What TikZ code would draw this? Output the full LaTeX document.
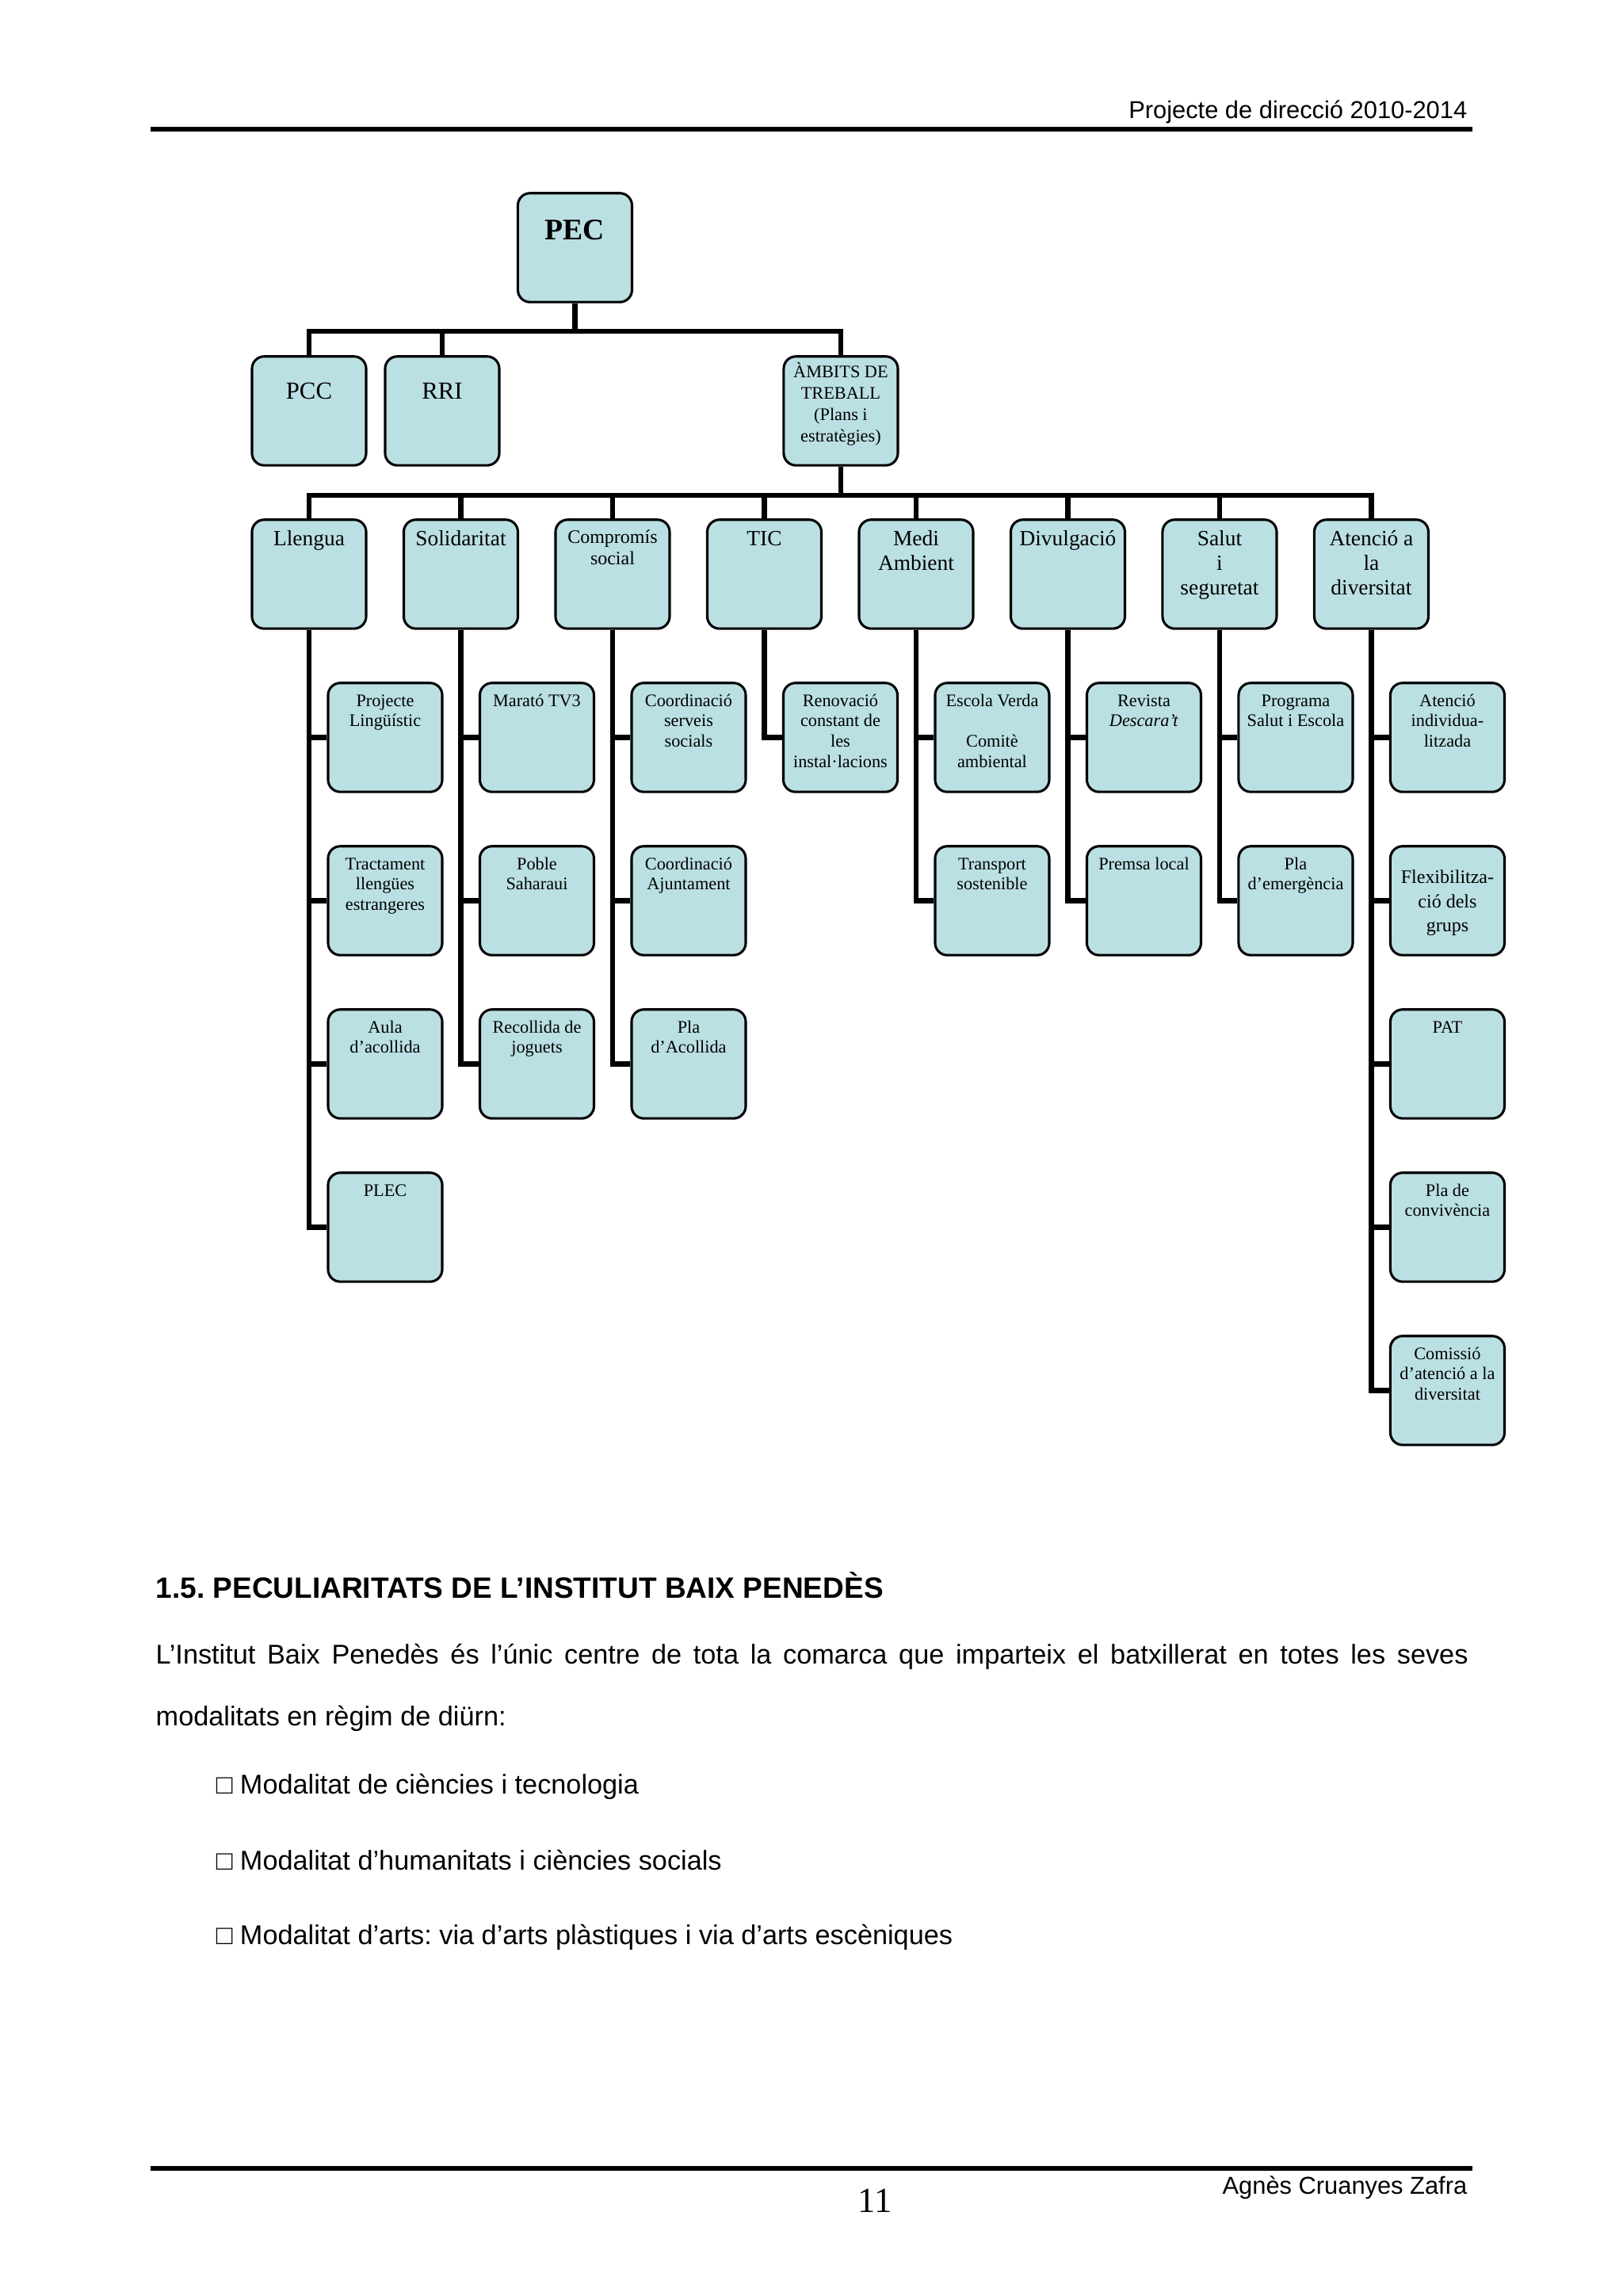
\documentclass[tikz,border=0pt]{standalone}
\usepackage{fontspec}
\setmainfont{Liberation Serif}
\setsansfont{Liberation Sans}
\usepackage{tikz}
\frenchspacing
\definecolor{cellblue}{RGB}{187,224,227}
\tikzset{cell/.style 2 args={rectangle, rounded corners=4.5pt, draw=black, line width=0.9pt, fill=cellblue, minimum width=1.477cm, inner xsep=0pt, inner ysep=0pt, text width=1.44cm, align=flush center, text height=#1, text depth=#2}}
\tikzstyle{pecbox} = [cell={17pt}{23.1pt}, font=\fontsize{11}{13}\selectfont\bfseries]
\tikzstyle{toplevel} = [cell={15.7pt}{24.4pt}, font=\fontsize{9}{11}\selectfont]
\tikzstyle{plans} = [cell={7.8pt}{32.3pt}, font=\fontsize{6.5}{7.9}\selectfont]
\tikzstyle{area} = [cell={9.6pt}{30.5pt}, font=\fontsize{8}{9}\selectfont]
\tikzstyle{areasmall} = [cell={8.7pt}{31.4pt}, font=\fontsize{7}{8}\selectfont]
\tikzstyle{item} = [cell={8.6pt}{31.5pt}, font=\fontsize{6.5}{7.5}\selectfont]
\tikzstyle{itembig} = [cell={13.7pt}{26.4pt}, font=\fontsize{7}{8.9}\selectfont]
\tikzstyle{link} = [line width=2pt]
\tikzstyle{rule} = [line width=1.6pt]
\tikzstyle{pagetext} = [inner sep=0pt, font=\sffamily\fontsize{10}{12}\selectfont]

\begin{document}
\begin{tikzpicture}[node distance=2.1123cm]
	\fill [white] (0,0) rectangle (21,-29.706);
	\useasboundingbox (0,0) rectangle (21,-29.706);

	\node (hdr) [pagetext, anchor=base east, font=\sffamily\fontsize{9}{11}\selectfont] at (18.99,-1.535) {Projecte de direcció 2010-2014};
	\draw [rule] (1.948,-1.671) -- (19.052,-1.671);

	\node (pec) [pecbox] at (7.439,-3.204) {PEC};
	\node (pcc) [toplevel, below of=pec, xshift=-3.44cm] {PCC};
	\node (rri) [toplevel, right of=pcc, node distance=1.7226cm] {RRI};
	\node (ambits) [plans, below of=pec, xshift=3.44cm] {ÀMBITS DE\\TREBALL\\(Plans i\\estratègies)};

	\node (llengua) [area, below of=pcc] {Llengua};
	\node (solid) [area, right of=llengua, node distance=1.9636cm] {Solidaritat};
	\node (comp) [areasmall, right of=solid, node distance=1.9636cm] {Compromís\\social};
	\node (tic) [area, right of=comp, node distance=1.9636cm] {TIC};
	\node (medi) [area, right of=tic, node distance=1.9636cm] {Medi\\Ambient};
	\node (divul) [area, right of=medi, node distance=1.9636cm] {Divulgació};
	\node (salut) [area, right of=divul, node distance=1.9636cm] {Salut\\i\\seguretat};
	\node (atencio) [area, right of=salut, node distance=1.9636cm] {Atenció a\\la\\diversitat};

	\node (ll1) [item, below of=llengua, xshift=0.9844cm] {Projecte\\Lingüístic};
	\node (ll2) [item, below of=ll1] {Tractament\\llengües\\estrangeres};
	\node (ll3) [item, below of=ll2] {Aula\\d’acollida};
	\node (ll4) [item, below of=ll3] {PLEC};

	\node (so1) [item, below of=solid, xshift=0.9844cm] {Marató TV3};
	\node (so2) [item, below of=so1] {Poble\\Saharaui};
	\node (so3) [item, below of=so2] {Recollida de\\joguets};

	\node (co1) [item, below of=comp, xshift=0.9844cm] {Coordinació\\serveis\\socials};
	\node (co2) [item, below of=co1] {Coordinació\\Ajuntament};
	\node (co3) [item, below of=co2] {Pla\\d’Acollida};

	\node (ti1) [item, below of=tic, xshift=0.9844cm] {Renovació\\constant de\\les\\instal·lacions};

	\node (me1) [item, below of=medi, xshift=0.9844cm] {Escola Verda\\[7.5pt]Comitè\\ambiental};
	\node (me2) [item, below of=me1] {Transport\\sostenible};

	\node (di1) [item, below of=divul, xshift=0.9844cm] {Revista\\\textit{Descara’t}};
	\node (di2) [item, below of=di1] {Premsa local};

	\node (sa1) [item, below of=salut, xshift=0.9844cm] {Programa\\Salut i Escola};
	\node (sa2) [item, below of=sa1] {Pla\\d’emergència};

	\node (at1) [item, below of=atencio, xshift=0.9844cm] {Atenció\\individua-\\litzada};
	\node (at2) [itembig, below of=at1] {Flexibilitza-\\ció dels\\grups};
	\node (at3) [item, below of=at2] {PAT};
	\node (at4) [item, below of=at3] {Pla de\\convivència};
	\node (at5) [item, below of=at4] {Comissió\\d’atenció a la\\diversitat};

	\coordinate (bar1) at (0,-4.286);
	\coordinate (bar2) at (0,-6.409);
	\draw [link] (pec.south) -- (pec.south |- bar1);
	\draw [link] (pcc.north) |- (ambits.north |- bar1) -- (ambits.north);
	\draw [link] (rri.north) -- (rri.north |- bar1);
	\draw [link] (ambits.south) -- (ambits.south |- bar2);
	\draw [link] (llengua.north) |- (atencio.north |- bar2) -- (atencio.north);
	\draw [link] (solid.north) -- (solid.north |- bar2);
	\draw [link] (comp.north) -- (comp.north |- bar2);
	\draw [link] (tic.north) -- (tic.north |- bar2);
	\draw [link] (medi.north) -- (medi.north |- bar2);
	\draw [link] (divul.north) -- (divul.north |- bar2);
	\draw [link] (salut.north) -- (salut.north |- bar2);

	\draw [link] (llengua.south) |- (ll4.west);
	\draw [link] (ll1.west) -- (ll1.west -| llengua.south);
	\draw [link] (ll2.west) -- (ll2.west -| llengua.south);
	\draw [link] (ll3.west) -- (ll3.west -| llengua.south);
	\draw [link] (solid.south) |- (so3.west);
	\draw [link] (so1.west) -- (so1.west -| solid.south);
	\draw [link] (so2.west) -- (so2.west -| solid.south);
	\draw [link] (comp.south) |- (co3.west);
	\draw [link] (co1.west) -- (co1.west -| comp.south);
	\draw [link] (co2.west) -- (co2.west -| comp.south);
	\draw [link] (tic.south) |- (ti1.west);
	\draw [link] (medi.south) |- (me2.west);
	\draw [link] (me1.west) -- (me1.west -| medi.south);
	\draw [link] (divul.south) |- (di2.west);
	\draw [link] (di1.west) -- (di1.west -| divul.south);
	\draw [link] (salut.south) |- (sa2.west);
	\draw [link] (sa1.west) -- (sa1.west -| salut.south);
	\draw [link] (atencio.south) |- (at5.west);
	\draw [link] (at1.west) -- (at1.west -| atencio.south);
	\draw [link] (at2.west) -- (at2.west -| atencio.south);
	\draw [link] (at3.west) -- (at3.west -| atencio.south);
	\draw [link] (at4.west) -- (at4.west -| atencio.south);

	\node (sec) [pagetext, anchor=base west, font=\sffamily\bfseries\fontsize{10.8}{13}\selectfont] at (2.01,-20.68) {1.5. PECULIARITATS DE L’INSTITUT BAIX PENEDÈS};
	\node (par1) [pagetext, anchor=base west] at (2.01,-21.53) {\makebox[16.98cm][s]{L’Institut Baix Penedès és l’únic centre de tota la comarca que imparteix el batxillerat en totes les seves}};
	\node (par2) [pagetext, anchor=base west] at (2.01,-22.33) {modalitats en règim de diürn:};
	\node (mod1) [pagetext, anchor=base west] at (2.79,-23.21) {□ Modalitat de ciències i tecnologia};
	\node (mod2) [pagetext, anchor=base west] at (2.79,-24.19) {□ Modalitat d’humanitats i ciències socials};
	\node (mod3) [pagetext, anchor=base west] at (2.79,-25.16) {□ Modalitat d’arts: via d’arts plàstiques i via d’arts escèniques};

	\draw [rule] (1.948,-28.055) -- (19.052,-28.055);
	\node (auth) [pagetext, anchor=base east, font=\sffamily\fontsize{9}{11}\selectfont] at (18.99,-28.39) {Agnès Cruanyes Zafra};
	\node (pgno) [pagetext, anchor=base, font=\fontsize{13}{15}\selectfont] at (11.32,-28.62) {11};
\end{tikzpicture}
\end{document}
